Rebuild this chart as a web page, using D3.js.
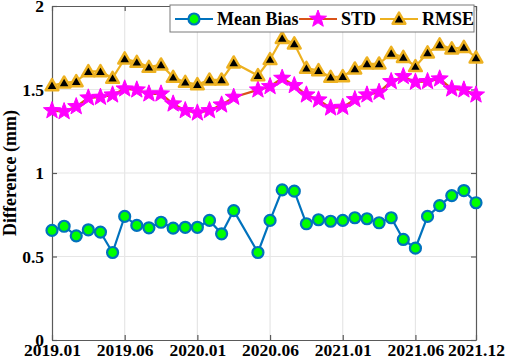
<!DOCTYPE html>
<html>
<head>
<meta charset="utf-8">
<script src="https://cdn.jsdelivr.net/npm/d3@7"></script>
<style>
  body { margin: 0; background: #fff; }
</style>
</head>
<body>
<div id="chart"></div>
<script>
// month offsets from 2019.01 (2020.05 has no data)
const months = [0, 1, 2, 3, 4, 5, 6, 7, 8, 9, 10, 11, 12, 13, 14, 15,
  17, 18, 19, 20, 21, 22, 23, 24, 25, 26, 27, 28, 29, 30, 31, 32, 33, 34, 35];

const meanBias = [0.656, 0.681, 0.624, 0.660, 0.646, 0.524, 0.740, 0.686, 0.672, 0.705, 0.670, 0.675, 0.675, 0.716, 0.636, 0.775,
  0.524, 0.716, 0.899, 0.891, 0.696, 0.720, 0.711, 0.716, 0.732, 0.726, 0.702, 0.732, 0.602, 0.550, 0.740, 0.805, 0.865, 0.895, 0.822];

const std = [1.374, 1.368, 1.398, 1.450, 1.454, 1.468, 1.504, 1.498, 1.474, 1.474, 1.414, 1.374, 1.360, 1.374, 1.408, 1.454,
  1.498, 1.518, 1.568, 1.524, 1.468, 1.438, 1.390, 1.394, 1.440, 1.468, 1.484, 1.548, 1.578, 1.544, 1.548, 1.564, 1.504, 1.498, 1.468];

const rmse = [1.524, 1.540, 1.548, 1.608, 1.608, 1.568, 1.684, 1.664, 1.634, 1.648, 1.574, 1.544, 1.530, 1.558, 1.558, 1.660,
  1.584, 1.680, 1.807, 1.774, 1.628, 1.614, 1.574, 1.578, 1.624, 1.654, 1.654, 1.717, 1.693, 1.638, 1.720, 1.768, 1.744, 1.753, 1.690];

const xTicks = [0, 6, 12, 18, 24, 30, 35];
const xTickLabels = ['2019.01', '2019.06', '2020.01', '2020.06', '2021.01', '2021.06', '2021.12'];
const yTicks = [0, 0.5, 1, 1.5, 2];

const font = '"Liberation Serif", "Times New Roman", serif';

const outerW = 505,
  outerH = 364;

const margin = { left: 52, right: 29, top: 6, bottom: 24 };
const w = outerW - margin.left - margin.right,
  h = outerH - margin.top - margin.bottom;

const x = d3.scaleLinear().domain([0, 35]).range([0, w]);
const y = d3.scaleLinear().domain([0, 2]).range([h, 0]);

const svg = d3.select('#chart').append('svg')
  .attr('width', outerW)
  .attr('height', outerH);

const g = svg.append('g')
  .attr('transform', `translate(${margin.left}, ${margin.top})`);

// grid
g.append('g').selectAll('line')
  .data(xTicks.slice(1, -1))
  .enter().append('line')
  .attr('x1', d => x(d)).attr('x2', d => x(d))
  .attr('y1', 0).attr('y2', h)
  .attr('stroke', '#e6e6e6').attr('stroke-width', 1.2);

g.append('g').selectAll('line')
  .data(yTicks.slice(1, -1))
  .enter().append('line')
  .attr('x1', 0).attr('x2', w)
  .attr('y1', d => y(d)).attr('y2', d => y(d))
  .attr('stroke', '#e6e6e6').attr('stroke-width', 1.2);

// axes (ticks inward, box)
const axisColor = '#5a5a5a';

const xAxis = g.append('g')
  .attr('transform', `translate(0, ${h})`)
  .call(d3.axisBottom(x)
    .tickValues(xTicks)
    .tickFormat((d, i) => xTickLabels[i])
    .tickSize(-5)
    .tickSizeOuter(0)
    .tickPadding(3));

const xTop = g.append('g')
  .call(d3.axisTop(x).tickValues(xTicks).tickFormat('').tickSize(-5).tickSizeOuter(0));

const yAxis = g.append('g')
  .call(d3.axisLeft(y)
    .tickValues(yTicks)
    .tickFormat(d3.format('~g'))
    .tickSize(-5)
    .tickSizeOuter(0)
    .tickPadding(8));

const yRight = g.append('g')
  .attr('transform', `translate(${w}, 0)`)
  .call(d3.axisRight(y).tickValues(yTicks).tickFormat('').tickSize(-5).tickSizeOuter(0));

g.selectAll('.domain, .tick line').attr('stroke', axisColor).attr('stroke-width', 1.2);
g.selectAll('.tick text')
  .attr('fill', '#000')
  .style('font-family', font)
  .style('font-weight', 'bold')
  .style('font-size', '17.5px');
xAxis.selectAll('.tick text').attr('y', 4);

// y label
svg.append('text')
  .attr('transform', `translate(16, ${margin.top + h / 2}) rotate(-90)`)
  .attr('text-anchor', 'middle')
  .style('font-family', font)
  .style('font-weight', 'bold')
  .style('font-size', '18px')
  .text('Difference (mm)');

// series
const series = [
  { name: 'Mean Bias', values: meanBias, line: '#0072BD', width: 2.2 },
  { name: 'STD', values: std, line: '#D95319', width: 2.2 },
  { name: 'RMSE', values: rmse, line: '#EDB120', width: 2.2 }
];

const line = d3.line()
  .x(d => x(d.m))
  .y(d => y(d.v));

function starPath(ro, ri) {
  const pts = [];
  for (let k = 0; k < 10; k++) {
    const a = -Math.PI / 2 + k * Math.PI / 5;
    const r = k % 2 === 0 ? ro : ri;
    pts.push([r * Math.cos(a), r * Math.sin(a)]);
  }
  return 'M' + pts.join('L') + 'Z';
}

const triPath = d3.symbol(d3.symbolTriangle, 70)();
const star = starPath(9, 3.8);

function drawMarker(sel, name) {
  if (name === 'Mean Bias') {
    sel.append('circle').attr('r', 5.5)
      .attr('fill', '#00FF00').attr('stroke', '#0072BD').attr('stroke-width', 2.2);
  } else if (name === 'STD') {
    sel.append('path').attr('d', star)
      .attr('fill', '#FF00FF').attr('stroke', '#FF00FF').attr('stroke-width', 1);
  } else {
    sel.append('path').attr('d', triPath)
      .attr('transform', 'translate(0, 1)')
      .attr('fill', '#000').attr('stroke', '#EDB120').attr('stroke-width', 2.5)
      .attr('stroke-linejoin', 'round');
  }
}

series.forEach(s => {
  const pts = s.values.map((v, i) => ({ m: months[i], v: v }));
  const sg = g.append('g');
  sg.append('path')
    .datum(pts)
    .attr('d', line)
    .attr('fill', 'none')
    .attr('stroke', s.line)
    .attr('stroke-width', s.width);
  sg.selectAll('.mk')
    .data(pts)
    .enter().append('g')
    .attr('class', 'mk')
    .attr('transform', d => `translate(${x(d.m)}, ${y(d.v)})`)
    .each(function() { drawMarker(d3.select(this), s.name); });
});

// legend
const legend = svg.append('g').attr('transform', 'translate(170, 5)');
legend.append('rect')
  .attr('width', 304).attr('height', 27)
  .attr('fill', '#fff').attr('stroke', '#7a7a7a').attr('stroke-width', 1);

const legendX = [5, 129, 210];
series.forEach((s, i) => {
  const lg = legend.append('g').attr('transform', `translate(${legendX[i]}, 14)`);
  lg.append('line').attr('x1', 0).attr('x2', 38)
    .attr('stroke', s.line).attr('stroke-width', 2.2);
  const mk = lg.append('g').attr('transform', 'translate(19, 0)');
  drawMarker(mk, s.name);
  lg.append('text')
    .attr('x', 42).attr('y', 6)
    .style('font-family', font)
    .style('font-weight', 'bold')
    .style('font-size', '18px')
    .text(s.name);
});
</script>
</body>
</html>
